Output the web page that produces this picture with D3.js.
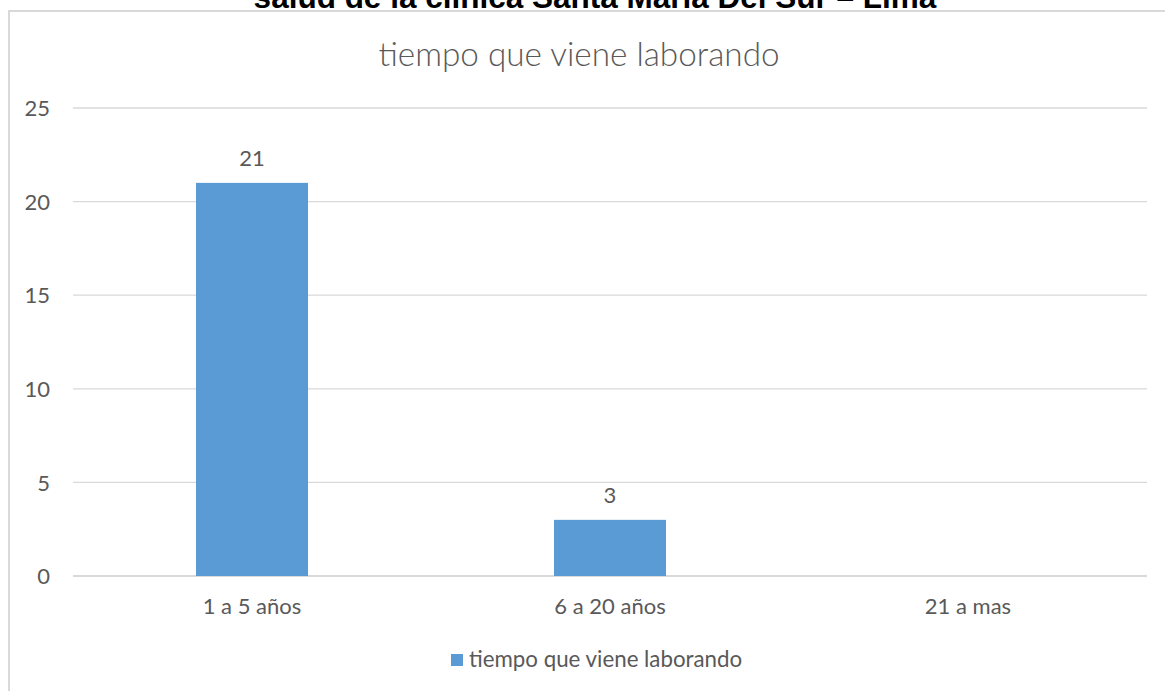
<!DOCTYPE html>
<html>
<head>
<meta charset="utf-8">
<script src="https://cdn.jsdelivr.net/npm/d3@7"></script>
<style>
  html, body { margin: 0; padding: 0; background: #fff; }
  svg { display: block; }
</style>
</head>
<body>
<svg id="chart" width="1165" height="691"></svg>
<script>
const categories = ["1 a 5 años", "6 a 20 años", "21 a mas"];
const values = [21, 3, null];
const dataLabels = ["21", "3", ""];
const yTicks = [0, 5, 10, 15, 20, 25];
const seriesName = "tiempo que viene laborando";
const chartTitle = "tiempo que viene laborando";
const pageTitle = "salud de la clínica Santa María Del Sur – Lima";

const svg = d3.select("#chart");
const W = 1165, H = 691;
const plot = { left: 73, right: 1147, top: 108, bottom: 576 };
const textColor = "#595959";
const barColor = "#5b9bd5";
const font = "Lato, 'Open Sans', sans-serif";
const fs = 22;

// Outer page title (cut off at top, as in the reference)
svg.append("text")
  .attr("x", 595).attr("y", 8)
  .attr("text-anchor", "middle")
  .attr("font-family", "'Liberation Sans', Arial, sans-serif")
  .attr("font-weight", "bold")
  .attr("font-size", 31.5)
  .attr("fill", "#000")
  .text(pageTitle);

// Chart area border
svg.append("rect")
  .attr("x", 9).attr("y", 11)
  .attr("width", W + 20).attr("height", H + 20)
  .attr("fill", "#fff")
  .attr("stroke", "#d9d9d9")
  .attr("stroke-width", 2);

const x = d3.scaleBand()
  .domain(categories)
  .range([plot.left, plot.right])
  .paddingInner(0.687)
  .paddingOuter(0.3435);

const y = d3.scaleLinear()
  .domain([0, 25])
  .range([plot.bottom, plot.top]);

// Gridlines
svg.append("g")
  .selectAll("line")
  .data(yTicks)
  .join("line")
  .attr("x1", plot.left).attr("x2", plot.right)
  .attr("y1", d => y(d)).attr("y2", d => y(d))
  .attr("stroke", "#d9d9d9")
  .attr("stroke-width", d => d === 0 ? 2 : 1.3);

// Y axis labels
const yAxis = d3.axisLeft(y).tickValues(yTicks).tickSize(0).tickPadding(0);
const yg = svg.append("g").attr("transform", `translate(${50},0)`).call(yAxis);
yg.select(".domain").remove();
yg.selectAll("text")
  .attr("font-family", font).attr("font-size", fs)
  .attr("fill", textColor).attr("dy", "0.35em");

// Bars
const bars = categories.map((c, i) => ({ c, v: values[i], label: dataLabels[i] })).filter(d => d.v != null);
svg.append("g")
  .selectAll("rect")
  .data(bars)
  .join("rect")
  .attr("x", d => x(d.c))
  .attr("width", x.bandwidth())
  .attr("y", d => y(d.v))
  .attr("height", d => y(0) - y(d.v))
  .attr("fill", barColor);

// Data labels
svg.append("g")
  .selectAll("text")
  .data(bars)
  .join("text")
  .attr("x", d => x(d.c) + x.bandwidth() / 2)
  .attr("y", d => y(d.v) - 17)
  .attr("text-anchor", "middle")
  .attr("font-family", font).attr("font-size", fs)
  .attr("fill", textColor)
  .text(d => d.label);

// X axis labels
const xAxis = d3.axisBottom(x).tickSize(0).tickPadding(0);
const xg = svg.append("g").attr("transform", `translate(0,${614})`).call(xAxis);
xg.select(".domain").remove();
xg.selectAll("text")
  .attr("font-family", font).attr("font-size", fs)
  .attr("fill", textColor).attr("dy", 0).attr("y", 0);

// Chart title
svg.append("text")
  .attr("x", 579).attr("y", 66)
  .attr("text-anchor", "middle")
  .attr("font-family", font).attr("font-weight", 300)
  .attr("font-size", 33.3)
  .attr("fill", textColor)
  .text(chartTitle);

// Legend
const lg = svg.append("g");
lg.append("rect")
  .attr("x", 451).attr("y", 654)
  .attr("width", 12).attr("height", 12)
  .attr("fill", barColor);
lg.append("text")
  .attr("x", 469).attr("y", 667)
  .attr("font-family", font).attr("font-size", 22.3)
  .attr("fill", textColor)
  .text(seriesName);
</script>
</body>
</html>
